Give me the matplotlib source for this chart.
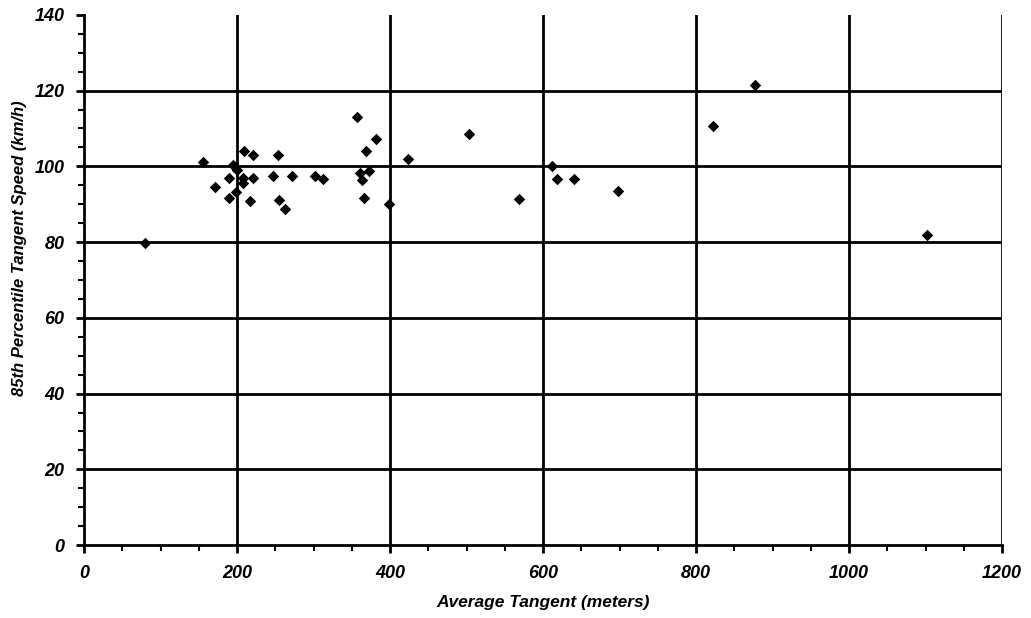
import matplotlib
matplotlib.use("Agg")
import matplotlib.pyplot as plt
from matplotlib.ticker import MultipleLocator

avg_tangent = [80, 155, 171, 190, 190, 195, 200, 199, 208, 208, 209, 217, 221, 221,
               247, 253, 255, 263, 272, 302, 313, 357, 361, 363, 366, 368, 373, 381,
               399, 423, 503, 568, 612, 618, 641, 698, 822, 877, 1102]
speed85 = [79.8, 101.1, 94.5, 96.8, 91.6, 100.3, 98.9, 93.2, 96.8, 95.6, 104.1, 90.9, 96.8, 103.1,
           97.5, 103.1, 91.0, 88.7, 97.5, 97.5, 96.7, 113.1, 98.3, 96.4, 91.6, 104.0, 98.8, 107.3,
           90.0, 102.0, 108.6, 91.4, 100.1, 96.7, 96.7, 93.6, 110.6, 121.5, 82.0]

x_ticks = [0, 200, 400, 600, 800, 1000, 1200]
y_ticks = [0, 20, 40, 60, 80, 100, 120, 140]

plt.rcParams['font.family'] = ['Liberation Sans', 'DejaVu Sans']

fig = plt.figure(figsize=(10.31, 6.18), dpi=100)
ax = fig.add_axes([0.0815, 0.118, 0.972 - 0.0815, 0.976 - 0.118])

ax.scatter(avg_tangent, speed85, marker='D', s=34, color='black', zorder=3, linewidths=0)

ax.set_xlim(0, 1200)
ax.set_ylim(0, 140)
ax.set_xticks(x_ticks)
ax.set_yticks(y_ticks)
ax.xaxis.set_minor_locator(MultipleLocator(50))
ax.yaxis.set_minor_locator(MultipleLocator(5))

for x in x_ticks[1:]:
    ax.axvline(x, color='black', lw=2, zorder=1)
for y in y_ticks[1:-1]:
    ax.axhline(y, color='black', lw=2, zorder=1)

ax.spines['top'].set_visible(False)
ax.spines['right'].set_visible(False)
ax.spines['left'].set_linewidth(2)
ax.spines['bottom'].set_linewidth(2)

ax.tick_params(which='major', direction='out', length=6, width=2, labelsize=13, pad=8)
ax.tick_params(which='minor', direction='out', length=4, width=1.5)
for lab in ax.get_xticklabels() + ax.get_yticklabels():
    lab.set_fontweight('bold')
    lab.set_fontstyle('italic')

ax.set_xlabel('Average Tangent (meters)', fontsize=12.5, fontweight='bold', fontstyle='italic', labelpad=10)
ax.set_ylabel('85th Percentile Tangent Speed (km/h)', fontsize=12, fontweight='bold', fontstyle='italic', labelpad=10)
ax.yaxis.set_label_coords(-0.062, 0.56)

fig.savefig('out.png', dpi=100)
